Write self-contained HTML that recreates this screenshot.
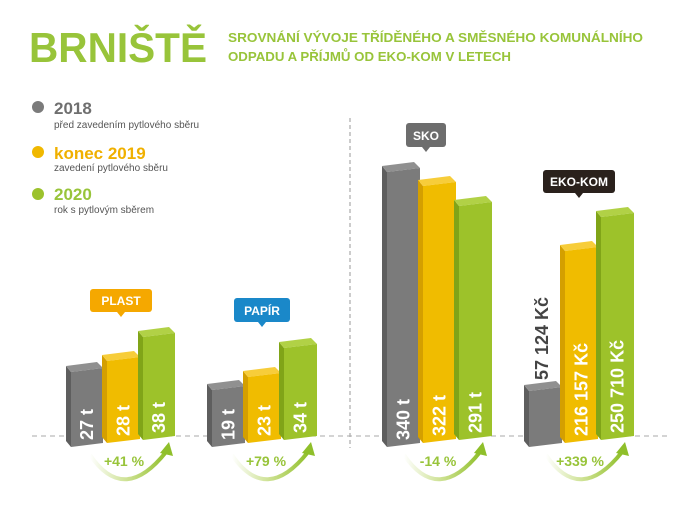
<!DOCTYPE html>
<html><head><meta charset="utf-8"><style>
body{margin:0;width:700px;height:502px;background:#fff;overflow:hidden;font-family:"Liberation Sans",sans-serif}
</style></head><body>
<svg width="700" height="502" xmlns="http://www.w3.org/2000/svg" font-family="Liberation Sans, sans-serif">
<defs>
<linearGradient id="ag" x1="0" y1="0" x2="1" y2="0">
<stop offset="0" stop-color="#a9cc45" stop-opacity="0"/><stop offset="0.5" stop-color="#a9cc45" stop-opacity="0.6"/><stop offset="1" stop-color="#8fbf2a"/></linearGradient>
</defs>
<text x="29" y="62" font-size="42" font-weight="bold" fill="#98c43a" textLength="178" lengthAdjust="spacingAndGlyphs">BRNIŠTĚ</text>
<text x="228" y="42" font-size="13" font-weight="bold" fill="#98c43a" textLength="415" lengthAdjust="spacingAndGlyphs">SROVNÁNÍ VÝVOJE TŘÍDĚNÉHO A SMĚSNÉHO KOMUNÁLNÍHO</text>
<text x="228" y="61" font-size="13" font-weight="bold" fill="#98c43a" textLength="283" lengthAdjust="spacingAndGlyphs">ODPADU A PŘÍJMŮ OD EKO-KOM V LETECH</text>
<circle cx="38" cy="107" r="6" fill="#7b7b7b"/>
<text x="54" y="114" font-size="17" font-weight="bold" fill="#6f6f6f">2018</text>
<text x="54" y="128" font-size="10" fill="#555">před zavedením pytlového sběru</text>
<circle cx="38" cy="152" r="6" fill="#f0b800"/>
<text x="54" y="159" font-size="17" font-weight="bold" fill="#f0b000">konec 2019</text>
<text x="54" y="171" font-size="10" fill="#555">zavedení pytlového sběru</text>
<circle cx="38" cy="194" r="6" fill="#9cc22c"/>
<text x="54" y="200" font-size="17" font-weight="bold" fill="#98c43a">2020</text>
<text x="54" y="213" font-size="10" fill="#555">rok s pytlovým sběrem</text>
<line x1="350" y1="118" x2="350" y2="448" stroke="#999" stroke-dasharray="4,3"/>
<line x1="32" y1="436" x2="668" y2="436" stroke="#aaa" stroke-dasharray="5,4"/>
<g id="bars"></g>
<rect x="90" y="289" width="62" height="23" rx="3" fill="#f5a800"/><path d="M117 312 l4 5 l4 -5z" fill="#f5a800"/>
<text x="121" y="305" font-size="12" font-weight="bold" fill="#fff" text-anchor="middle">PLAST</text>
<rect x="234" y="298" width="56" height="24" rx="3" fill="#1a88c9"/><path d="M258 322 l4 5 l4 -5z" fill="#1a88c9"/>
<text x="262" y="315" font-size="12" font-weight="bold" fill="#fff" text-anchor="middle">PAPÍR</text>
<rect x="406" y="123" width="40" height="24" rx="3" fill="#6d6d6d"/><path d="M422 147 l4 5 l4 -5z" fill="#6d6d6d"/>
<text x="426" y="140" font-size="12" font-weight="bold" fill="#fff" text-anchor="middle">SKO</text>
<rect x="543" y="170" width="72" height="23" rx="3" fill="#2a211c"/><path d="M575 193 l4 5 l4 -5z" fill="#2a211c"/>
<text x="579" y="186" font-size="12" font-weight="bold" fill="#fff" text-anchor="middle">EKO-KOM</text>
</svg>
<script>
var g=document.getElementById('bars');
var C={g:['#7b7b7b','#5e5e5e','#909090'],y:['#f0bc00','#d49f00','#f7cd3a'],n:['#9dc22a','#80a418','#b1d146']};
var B=[
['g',66,103,366,447,'27 t'],['y',102,140,355,443,'28 t'],['n',138,175,331,440,'38 t'],
['g',207,245,384,447,'19 t'],['y',243,281,371,443,'23 t'],['n',279,317,342,440,'34 t'],
['g',382,420,166,447,'340 t'],['y',418,456,180,443,'322 t'],['n',454,492,200,440,'291 t'],
['g',524,562,385,447,''],['y',560,598,245,443,'216 157 Kč'],['n',596,634,211,440,'250 710 Kč']];
var s='';
B.forEach(function(b){var c=C[b[0]],x0=b[1],x1=b[2],t=b[3],bt=b[4];
s+='<polygon points="'+x0+','+t+' '+(x0+5)+','+(t+6)+' '+(x0+5)+','+bt+' '+x0+','+(bt-6)+'" fill="'+c[1]+'"/>';
s+='<polygon points="'+x0+','+t+' '+(x1-6)+','+(t-4)+' '+x1+','+(t+2)+' '+(x0+5)+','+(t+6)+'" fill="'+c[2]+'"/>';
s+='<polygon points="'+(x0+5)+','+(t+6)+' '+x1+','+(t+2)+' '+x1+','+(bt-4)+' '+(x0+5)+','+bt+'" fill="'+c[0]+'"/>';
if(b[5]){var cx=(x0+5+x1)/2+6,y=bt-7;s+='<text transform="translate('+cx+','+y+') rotate(-90)" font-size="18" font-weight="bold" fill="#fff">'+b[5]+'</text>';}
});
s+='<text transform="translate(548,380) rotate(-90)" font-size="18" font-weight="bold" fill="#444">57 124 Kč</text>';
var A=[[124,'+41 %',90,168],[266,'+79 %',232,310],[438,'-14 %',404,482],[580,'+339 %',546,624]];
A.forEach(function(a){var x0=a[2],x1=a[3],m=(x0+x1)/2;
s+='<path d="M'+x0+' 455 Q'+(m-5)+' 505 '+(x1-2)+' 452" fill="none" stroke="url(#ag)" stroke-width="4"/>';
s+='<path d="M'+(x1-8)+' 453 L'+(x1+1)+' 442 L'+(x1+5)+' 456z" fill="#8fbf2a"/>';
s+='<text x="'+a[0]+'" y="466" font-size="14" font-weight="bold" fill="#98c43a" text-anchor="middle">'+a[1]+'</text>';});
g.innerHTML=s;
</script>
</body></html>
